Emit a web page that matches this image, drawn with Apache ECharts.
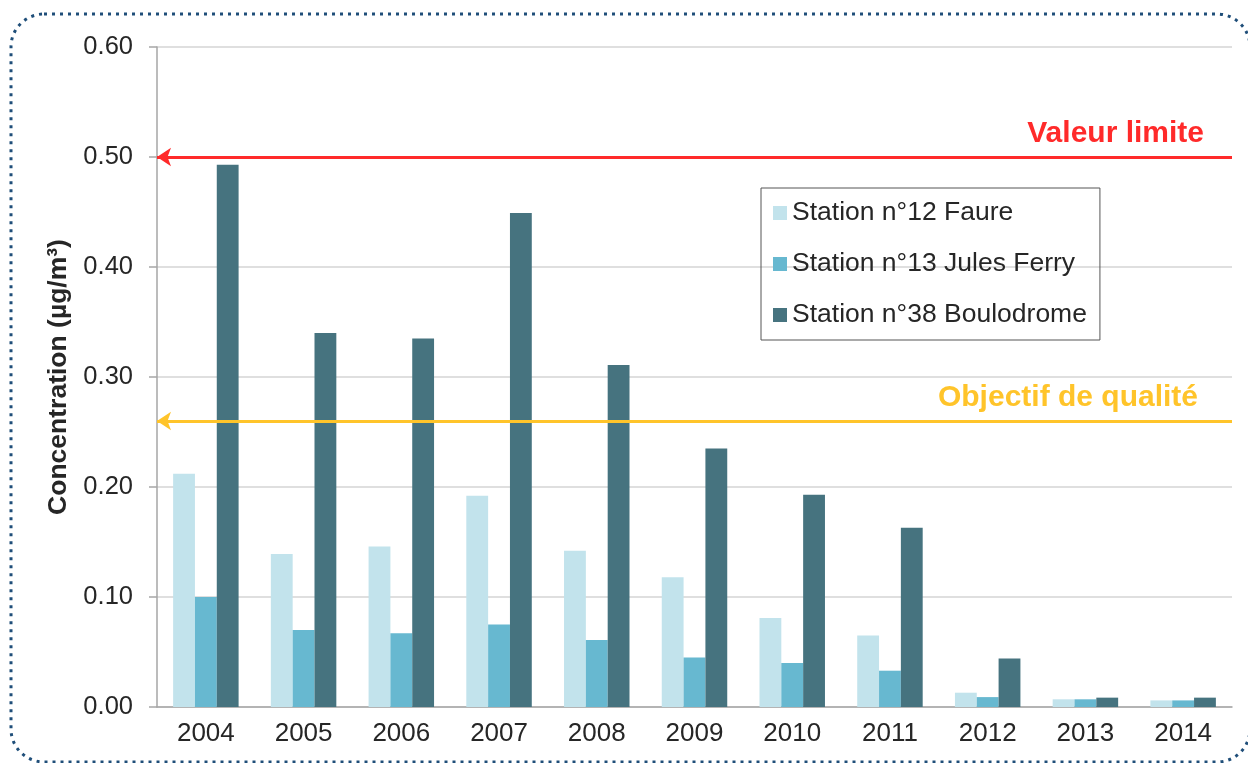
<!DOCTYPE html>
<html>
<head>
<meta charset="utf-8">
<script src="https://cdn.jsdelivr.net/npm/echarts@6/dist/echarts.min.js"></script>
<style>
  html, body { margin: 0; padding: 0; background: #fff; }
  #chart { width: 1248px; height: 763px; }
</style>
</head>
<body>
<div id="chart"></div>
<script>
// années
const years = ['2004', '2005', '2006', '2007', '2008', '2009', '2010', '2011', '2012', '2013', '2014']
// concentrations par station (µg/m3)
const faure = [0.212, 0.139, 0.146, 0.192, 0.142, 0.118, 0.081, 0.065, 0.013, 0.007, 0.006]
const julesFerry = [0.100, 0.070, 0.067, 0.075, 0.061, 0.045, 0.040, 0.033, 0.009, 0.007, 0.006]
const boulodrome = [0.493, 0.340, 0.335, 0.449, 0.311, 0.235, 0.193, 0.163, 0.044, 0.0085, 0.0085]
// seuils
const valeurLimite = 0.50
const objectifQualite = 0.2555

const myChart = echarts.init(document.getElementById('chart'))
const font = "'Liberation Sans', Arial, sans-serif"

const option = {
  animation: false,
  textStyle: { fontFamily: font },
  // cadre pointillé arrondi
  graphic: [
    {
      type: 'rect',
      shape: { x: 11, y: 14, width: 1239, height: 748, r: 33 },
      style: { fill: 'none', stroke: '#1f4e79', lineWidth: 3, lineDash: [3, 5] },
      z: -1
    }
  ],
  grid: { left: 157, right: 16, top: 47, bottom: 56 },
  legend: {
    orient: 'vertical',
    left: 761,
    top: 188,
    itemWidth: 14,
    itemHeight: 14,
    itemGap: 21,
    icon: 'rect',
    padding: [10, 13, 10, 12],
    borderColor: '#555',
    borderWidth: 1,
    textStyle: { fontSize: 26.5, color: '#262626', lineHeight: 30, fontFamily: font },
    data: ['Station n°12 Faure', 'Station n°13 Jules Ferry', 'Station n°38 Boulodrome']
  },
  xAxis: {
    type: 'category',
    data: years,
    axisLine: { lineStyle: { color: '#a6a6a6', width: 1.5 } },
    axisTick: { length: 8, lineStyle: { color: '#a6a6a6', width: 1.5 } },
    axisLabel: { fontSize: 26, color: '#262626', margin: 14, fontFamily: font }
  },
  yAxis: {
    type: 'value',
    min: 0,
    max: 0.6,
    interval: 0.1,
    name: 'Concentration (µg/m³)',
    nameLocation: 'middle',
    nameGap: 82,
    nameTextStyle: { fontSize: 26.5, fontWeight: 'bold', color: '#262626', fontFamily: font },
    axisLine: { show: true, lineStyle: { color: '#a6a6a6', width: 1.5 } },
    axisTick: { show: true, length: 8, lineStyle: { color: '#a6a6a6', width: 1.5 } },
    axisLabel: { fontSize: 25.5, color: '#262626', margin: 24, fontFamily: font, formatter: v => v.toFixed(2) },
    splitLine: { lineStyle: { color: '#d4d4d4', width: 1.5 } }
  },
  series: [
    {
      name: 'Station n°12 Faure',
      type: 'bar',
      data: faure,
      barGap: '0%',
      barCategoryGap: '33%',
      itemStyle: { color: '#c2e3ec' }
    },
    {
      name: 'Station n°13 Jules Ferry',
      type: 'bar',
      data: julesFerry,
      itemStyle: { color: '#67b8d0' }
    },
    {
      name: 'Station n°38 Boulodrome',
      type: 'bar',
      data: boulodrome,
      itemStyle: { color: '#46737f' },
      markLine: {
        silent: true,
        symbol: ['arrow', 'none'],
        symbolSize: 14,
        data: [
          {
            yAxis: valeurLimite,
            lineStyle: { color: '#ff2a2a', width: 3, type: 'solid' },
            label: {
              show: true,
              position: 'insideEndTop',
              formatter: 'Valeur limite',
              color: '#ff2a2a',
              fontSize: 30,
              fontWeight: 'bold',
              fontFamily: font,
              distance: [28, 8]
            }
          },
          {
            yAxis: objectifQualite,
            lineStyle: { color: '#ffc42a', width: 3, type: 'solid' },
            label: {
              show: true,
              position: 'insideEndTop',
              formatter: 'Objectif de qualité',
              color: '#ffc42a',
              fontSize: 30,
              fontWeight: 'bold',
              fontFamily: font,
              distance: [34, 8]
            }
          }
        ]
      }
    }
  ]
}

option && myChart.setOption(option)
window.addEventListener('resize', () => {
  myChart.resize()
})
</script>
</body>
</html>
